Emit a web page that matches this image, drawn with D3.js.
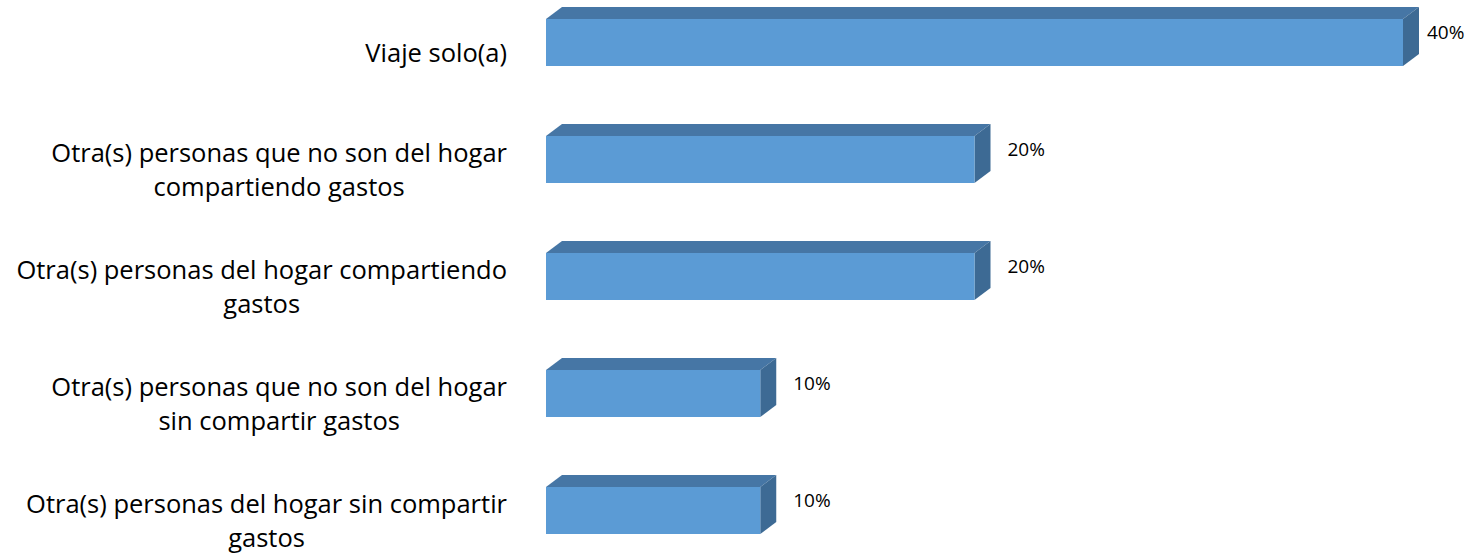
<!DOCTYPE html>
<html>
<head>
<meta charset="utf-8">
<script src="https://cdn.jsdelivr.net/npm/d3@7"></script>
<style>
  body { margin: 0; background: #fff; }
  svg { display: block; }
</style>
</head>
<body>
<div id="chart"></div>
<script>
// Data
const categories = [
    ['Viaje solo(a)'],
    ['Otra(s) personas que no son del hogar', 'compartiendo gastos'],
    ['Otra(s) personas del hogar compartiendo', 'gastos'],
    ['Otra(s) personas que no son del hogar', 'sin compartir gastos'],
    ['Otra(s) personas del hogar sin compartir', 'gastos']
];
const values = [40, 20, 20, 10, 10];
const valueLabels = ['40%', '20%', '20%', '10%', '10%'];

const width = 1473;
const height = 555;
const depth = { dx: 16, dy: -12 };

const svg = d3.select('#chart')
    .append('svg')
    .attr('width', width)
    .attr('height', height);

const x = d3.scaleLinear()
    .domain([0, 40])
    .range([546, 1403]);

const y = d3.scaleBand()
    .domain(d3.range(categories.length))
    .range([-16, 569])
    .paddingInner(0.6)
    .paddingOuter(0.3);

const barH = 47;
const bars = svg.selectAll('.bar')
    .data(values)
    .enter()
    .append('g')
    .attr('class', 'bar');

const top0 = (d, i) => y(i) + (y.bandwidth() - barH) / 2;

// top face
bars.append('path')
    .attr('fill', '#4676A5')
    .attr('d', (d, i) => {
        const x0 = x(0), x1 = x(d), t = top0(d, i);
        return `M${x0},${t} L${x0 + depth.dx},${t + depth.dy} L${x1 + depth.dx},${t + depth.dy} L${x1},${t} Z`;
    });

// side face
bars.append('path')
    .attr('fill', '#3D6A94')
    .attr('d', (d, i) => {
        const x1 = x(d), t = top0(d, i);
        return `M${x1},${t} L${x1 + depth.dx},${t + depth.dy} L${x1 + depth.dx},${t + depth.dy + barH} L${x1},${t + barH} Z`;
    });

// front face
bars.append('rect')
    .attr('x', x(0))
    .attr('y', (d, i) => top0(d, i))
    .attr('width', d => x(d) - x(0))
    .attr('height', barH)
    .attr('fill', '#5B9BD5');

// value labels
svg.selectAll('.value')
    .data(values)
    .enter()
    .append('text')
    .attr('class', 'value')
    .attr('x', d => Math.min(x(d) + depth.dx + 17, 1427))
    .attr('y', (d, i) => top0(d, i) + 13)
    .attr('dy', '0.35em')
    .attr('font-family', 'Open Sans, sans-serif')
    .attr('font-size', '19px')
    .attr('fill', '#000')
    .text((d, i) => valueLabels[i]);

// category labels: right-aligned block, lines centred within it
const labelRight = 507;
const lineH = 34;
const catG = svg.selectAll('.cat')
    .data(categories)
    .enter()
    .append('g')
    .attr('class', 'cat');

catG.each(function (lines, i) {
    const g = d3.select(this);
    const cy = top0(values[i], i) + barH / 2 + 11;
    const texts = g.selectAll('text')
        .data(lines)
        .enter()
        .append('text')
        .attr('font-family', 'Open Sans, sans-serif')
        .attr('font-size', '25.5px')
        .attr('fill', '#000')
        .attr('text-anchor', 'middle')
        .attr('y', (l, j) => cy + (j - (lines.length - 1) / 2) * lineH)
        .attr('dy', '0.35em')
        .text(l => l);
    const w = d3.max(texts.nodes(), n => n.getComputedTextLength());
    texts.attr('x', labelRight - w / 2);
});
</script>
</body>
</html>
